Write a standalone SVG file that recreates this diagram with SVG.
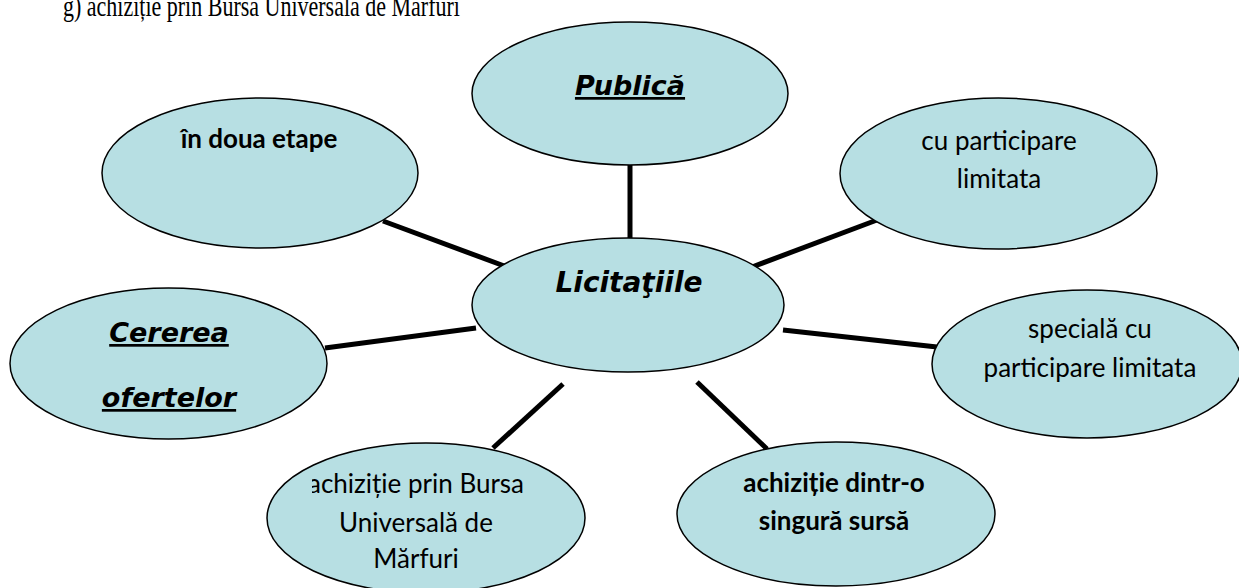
<svg xmlns="http://www.w3.org/2000/svg" width="1239" height="588" viewBox="0 0 1239 588">
<defs>
<style>
.node{fill:#b7dfe3;stroke:#000;stroke-width:1.5}
.conn{stroke:#000;stroke-width:5;fill:none;stroke-linecap:butt}
.v{font-family:"DejaVu Sans",Verdana,sans-serif;font-weight:bold;font-style:italic;text-anchor:middle;fill:#000}
.u{text-decoration:underline}
.c{font-family:Lato,"Noto Sans",sans-serif;font-size:26px;text-anchor:middle;fill:#000}
.cb{font-weight:bold}
.t{font-family:"Liberation Serif","Times New Roman",serif;font-size:22px;fill:#000}
</style>
<clipPath id="clipA"><rect x="312" y="430" width="300" height="158"/></clipPath>
</defs>
<rect width="1239" height="588" fill="#fff"/>
<text class="t" transform="translate(63,15.5) scale(1,1.35)" x="0" y="0">g) achiziție prin Bursa Universală de Mărfuri</text>
<g id="connectors">
<line class="conn" x1="630" y1="165" x2="630" y2="239"/>
<line class="conn" x1="383" y1="221" x2="507" y2="267"/>
<line class="conn" x1="752" y1="267" x2="877" y2="220"/>
<line class="conn" x1="783" y1="330" x2="937" y2="347"/>
<line class="conn" x1="325" y1="348" x2="476" y2="328"/>
<line class="conn" x1="493" y1="448" x2="563" y2="384"/>
<line class="conn" x1="697" y1="382" x2="767" y2="449"/>
</g>
<g id="n-publica">
<ellipse class="node" cx="630" cy="93.5" rx="158" ry="71.5"/>
<text class="v u" x="630" y="95" font-size="27">Publică</text>
</g>
<g id="n-doua-etape">
<ellipse class="node" cx="260" cy="173" rx="158" ry="75"/>
<text class="c cb" x="259" y="148">în doua etape</text>
</g>
<g id="n-cu-participare">
<ellipse class="node" cx="998.5" cy="173.5" rx="158.5" ry="75.5"/>
<text class="c" x="999" y="150">cu participare</text>
<text class="c" x="999" y="188">limitata</text>
</g>
<g id="n-licitatiile">
<ellipse class="node" cx="628" cy="305" rx="156" ry="67"/>
<text class="v" x="629" y="292" font-size="28">Licitaţiile</text>
</g>
<g id="n-cererea">
<ellipse class="node" cx="168.5" cy="363.5" rx="158.5" ry="75.5"/>
<text class="v u" x="169" y="342" font-size="27">Cererea</text>
<text class="v u" x="169" y="407" font-size="27">ofertelor</text>
</g>
<g id="n-speciala">
<ellipse class="node" cx="1087" cy="364" rx="155" ry="74"/>
<text class="c" x="1090" y="338">specială cu</text>
<text class="c" x="1090" y="377">participare limitata</text>
</g>
<g id="n-bursa">
<ellipse class="node" cx="426" cy="518" rx="159" ry="75"/>
<text class="c" x="416" y="493" clip-path="url(#clipA)">achiziție prin Bursa</text>
<text class="c" x="416" y="532">Universală de</text>
<text class="c" x="416" y="568">Mărfuri</text>
</g>
<g id="n-sursa">
<ellipse class="node" cx="836" cy="514" rx="159" ry="72"/>
<text class="c cb" x="834" y="492">achiziție dintr-o</text>
<text class="c cb" x="834" y="530">singură sursă</text>
</g>
</svg>
